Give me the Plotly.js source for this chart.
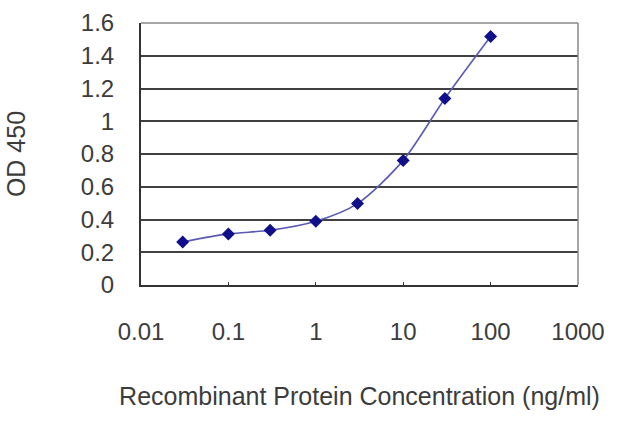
<!DOCTYPE html>
<html>
<head>
<meta charset="utf-8">
<script src="https://cdn.plot.ly/plotly-3.0.1.min.js"></script>
<style>
  html, body { margin: 0; padding: 0; background: #fff; }
  #chart { width: 640px; height: 427px; }
</style>
</head>
<body>
<div id="chart"></div>
<script>
// concentration (ng/ml) and OD 450 readings
const conc = [0.03, 0.1, 0.3, 1, 3, 10, 30, 100];
const od450 = [0.263, 0.312, 0.334, 0.389, 0.497, 0.761, 1.139, 1.517];
const xTicks = [0.01, 0.1, 1, 10, 100, 1000];
const xTickText = ["0.01", "0.1", "1", "10", "100", "1000"];
const yTicks = [0, 0.2, 0.4, 0.6, 0.8, 1, 1.2, 1.4, 1.6];
const yTickText = ["0", "0.2", "0.4", "0.6", "0.8", "1", "1.2", "1.4", "1.6"];

const tickFont = { family: "Liberation Sans, Arial, sans-serif", size: 24, color: "#3c3c3c" };
const titleFont = { family: "Liberation Sans, Arial, sans-serif", size: 25, color: "#3c3c3c" };

Plotly.newPlot("chart", [{
  x: conc,
  y: od450,
  type: "scatter",
  mode: "lines+markers",
  line: { color: "#5a5ab4", width: 1.6, shape: "spline", smoothing: 0.8 },
  marker: { symbol: "diamond", size: 10, color: "#10108a" },
  hoverinfo: "x+y"
}], {
  width: 640,
  height: 427,
  showlegend: false,
  paper_bgcolor: "#fff",
  plot_bgcolor: "#fff",
  font: tickFont,
  margin: { l: 141, r: 62, t: 23, b: 141.5 },
  xaxis: {
    type: "log",
    range: [-2, 3],
    tickvals: xTicks,
    ticktext: xTickText,
    tickfont: tickFont,
    showgrid: false,
    zeroline: false,
    showline: true,
    linecolor: "#333",
    linewidth: 2,
    ticks: "inside",
    ticklen: 3,
    tickcolor: "#333",
    ticklabelstandoff: 24,
    title: { text: "Recombinant Protein Concentration (ng/ml)", font: titleFont, standoff: 44 }
  },
  yaxis: {
    range: [0, 1.6],
    tickvals: yTicks,
    ticktext: yTickText,
    tickfont: tickFont,
    showgrid: true,
    gridcolor: "#404040",
    gridwidth: 2,
    zeroline: false,
    showline: true,
    linecolor: "#333",
    linewidth: 2,
    ticks: "",
    ticklabelstandoff: 20,
    title: { text: "OD 450", font: titleFont, standoff: 48 }
  },
  shapes: [
    { type: "line", xref: "paper", yref: "paper", x0: 0, x1: 1, y0: 1, y1: 1,
      line: { color: "#8a8a8a", width: 1.5 } },
    { type: "line", xref: "paper", yref: "paper", x0: 1, x1: 1, y0: 0, y1: 1,
      line: { color: "#8a8a8a", width: 1.5 } }
  ]
}, { displayModeBar: false, staticPlot: true });
</script>
</body>
</html>
